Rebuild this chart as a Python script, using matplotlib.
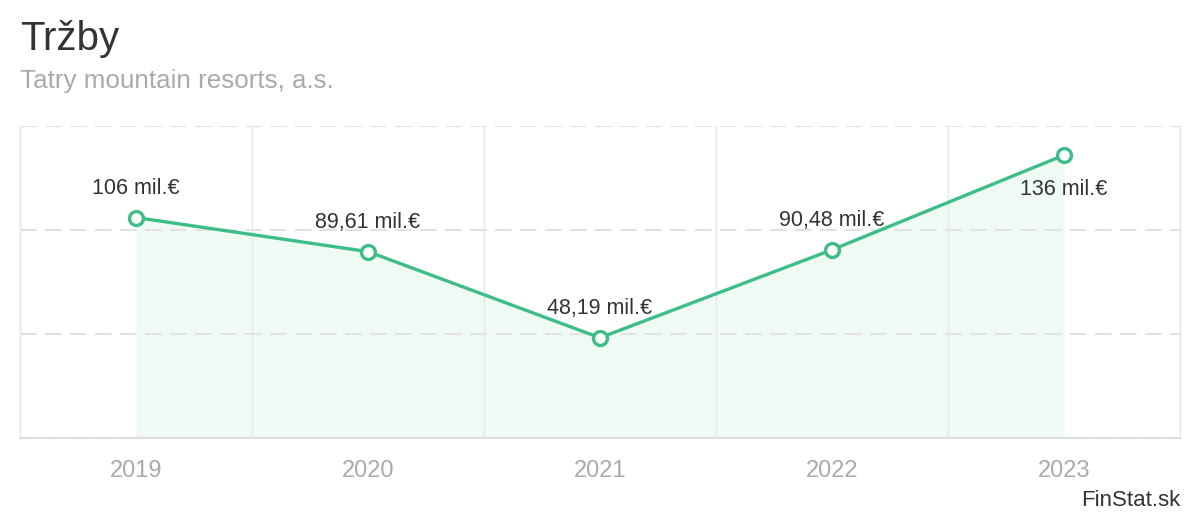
"""Revenue line chart for Tatry mountain resorts, a.s."""

import matplotlib

matplotlib.use("Agg")

import matplotlib.pyplot as plt
import numpy as np

years = ["2019", "2020", "2021", "2022", "2023"]
revenue = [106.0, 89.61, 48.19, 90.48, 136.0]
labels = ["106 mil.€", "89,61 mil.€", "48,19 mil.€", "90,48 mil.€", "136 mil.€"]
label_below = [False, False, False, False, True]
y_ticks = [0, 50, 100, 150]

GREEN = "#3dbd87"
FILL = "#effaf5"
GRID = "#e2e2e2"

plt.rcParams["font.family"] = ["Liberation Sans", "DejaVu Sans"]


def main() -> None:
    fig = plt.figure(figsize=(12, 5.2), dpi=100)
    ax = fig.add_axes([20 / 1200, 82 / 520, 1160 / 1200, 312 / 520])

    x = np.arange(len(years))
    ax.fill_between(x, revenue, 0, color=FILL, linewidth=0, zorder=0.1)
    ax.plot(x, revenue, color=GREEN, linewidth=2.4, zorder=3)
    ax.plot(x, revenue, linestyle="none", marker="o", markersize=10,
            markerfacecolor="white", markeredgecolor=GREEN, markeredgewidth=2.4, zorder=4)

    for xi, yi, text, below in zip(x, revenue, labels, label_below):
        offset = -25 if below else 21
        ax.annotate(text, (xi, yi), xytext=(0, offset), textcoords="offset points",
                    ha="center", va="center", fontsize=15.5, color="#333333", zorder=5)

    ax.set_xlim(-0.5, len(years) - 0.5)
    ax.set_ylim(0, 150)
    ax.set_xticks(x)
    ax.set_xticklabels(years)
    ax.set_xticks(np.arange(len(years) + 1) - 0.5, minor=True)
    ax.set_yticks(y_ticks)
    ax.tick_params(axis="x", which="major", length=0, pad=16, labelsize=17, labelcolor="#aaaaaa")
    ax.tick_params(axis="x", which="minor", length=0)
    ax.tick_params(axis="y", length=0, labelleft=False)

    ax.set_axisbelow(True)
    ax.grid(axis="y", which="major", color=GRID, linewidth=1.5, linestyle=(0, (8, 4)))
    ax.grid(axis="x", which="minor", color="#e6e6e6", linewidth=1.0, linestyle="-")

    for side in ("left", "right"):
        ax.spines[side].set_color("#e6e6e6")
        ax.spines[side].set_linewidth(1.0)
    ax.spines["top"].set_visible(False)
    ax.spines["bottom"].set_color("#dddddd")
    ax.spines["bottom"].set_linewidth(1.5)

    fig.text(20 / 1200, 1 - 39 / 520, "Tržby", fontsize=29, color="#333333", va="center")
    fig.text(20 / 1200, 1 - 81 / 520, "Tatry mountain resorts, a.s.", fontsize=18.7,
             color="#aaaaaa", va="center")
    fig.text(1180 / 1200, 1 - 500 / 520, "FinStat.sk", fontsize=16, color="#333333",
             ha="right", va="center")

    fig.savefig("out.png")
    plt.close(fig)


if __name__ == "__main__":
    main()
